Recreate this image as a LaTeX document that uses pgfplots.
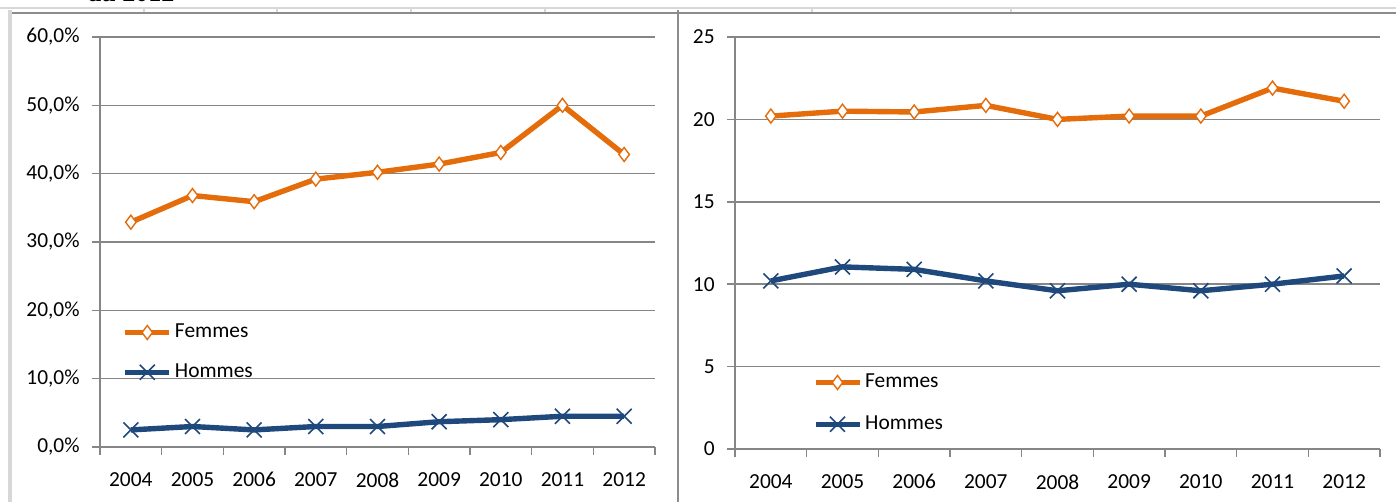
\documentclass[border=0pt]{standalone}
\usepackage{pgfplots}
\pgfplotsset{compat=1.18}
\usepackage{fontspec}
\setmainfont{Carlito}
\newfontfamily\titlefont{Liberation Serif}

\definecolor{femorange}{RGB}{228,108,10}
\definecolor{homblue}{RGB}{31,73,125}
\definecolor{gridgray}{RGB}{134,134,134}
\definecolor{framegray}{RGB}{140,140,140}
\definecolor{lightframe}{RGB}{215,215,215}

% Femmes / Hommes, 2004-2012 (x = 0 ... 8)
\pgfplotstableread{
x pctF pctH nbF nbH
0 32.9 2.5 20.2 10.2
1 36.8 3.0 20.5 11.05
2 35.9 2.5 20.45 10.9
3 39.2 3.0 20.85 10.2
4 40.2 3.0 20.0 9.6
5 41.4 3.7 20.2 10.0
6 43.1 4.0 20.2 9.6
7 50.0 4.5 21.9 10.0
8 42.8 4.5 21.1 10.5
}\evol

\pgfplotsset{
  evol/.style={
    scale only axis,
    clip=false,
    axis x line*=bottom, axis y line*=left,
    axis line style={gridgray, line width=0.9pt, -},
    xmin=-0.5, xmax=8.5,
    xtick={-0.5,0.5,...,8.5},
    xticklabels={},
    extra x ticks={0,1,2,3,4,5,6,7,8},
    extra x tick labels={2004,2005,2006,2007,2008,2009,2010,2011,2012},
    extra x tick style={major tick length=0pt},
    tick align=outside,
    major tick length=4pt,
    tick style={gridgray, line width=0.8pt},
    ymajorgrids,
    major grid style={gridgray, line width=0.8pt},
    ticklabel style={font=\fontsize{10.7}{12}\selectfont, text=black},
    xticklabel style={anchor=north, inner sep=0pt, yshift=-12.5pt},
    yticklabel style={anchor=east, inner sep=0pt, xshift=-6pt},
    legend cell align=left,
    legend style={draw=none, fill=none, inner sep=0pt,
      font=\fontsize{10.7}{12}\selectfont,
      nodes={inner sep=1.5pt}},
    legend image code/.code={%
      \draw[mark repeat=2, mark phase=2]
        plot coordinates {(0pt,0pt) (11pt,0pt) (22pt,0pt)};},
  },
  femmes/.style={femorange, line width=2.7pt, mark=diamond*, mark size=3.5pt,
    mark options={fill=white, draw=femorange, line width=0.7pt, solid}},
  hommes/.style={homblue, line width=2.7pt, mark=x, mark size=5.3pt,
    mark options={homblue, line width=0.8pt, solid}},
}

\begin{document}
\begin{tikzpicture}
\useasboundingbox (0,0) rectangle (698pt,251pt);
\clip (0,0) rectangle (698pt,251pt);

% page furniture around the two charts
\node[anchor=base west, inner sep=0pt, font=\titlefont\bfseries\fontsize{13}{15}\selectfont]
  at (44pt,250.2pt) {au 2012};
\draw[lightframe, line width=1.2pt] (0,247pt) -- (698pt,247pt);
\foreach \tx in {72,138.5,205.5,272.5,406,505.5}
  \draw[lightframe, line width=0.8pt] (\tx pt,244.5pt) -- (\tx pt,247pt);
\draw[framegray, line width=0.8pt] (5pt,244.5pt) -- (698pt,244.5pt);
\draw[lightframe, line width=1.6pt] (5pt,0) -- (5pt,246pt);
\draw[framegray, line width=0.9pt] (339pt,0) -- (339pt,246pt);

% left: share in percent
\begin{axis}[evol,
  at={(50pt,27.5pt)}, anchor=south west,
  width=277.5pt, height=205pt,
  ymin=0, ymax=60,
  ytick={0,10,20,30,40,50,60},
  yticklabels={{0,0\%},{10,0\%},{20,0\%},{30,0\%},{40,0\%},{50,0\%},{60,0\%}},
  legend style={at={(0.04,0.308)}, anchor=north west, row sep=8.5pt},
]
\addplot[femmes] table[x=x, y=pctF] {\evol};
\addlegendentry{Femmes}
\addplot[hommes] table[x=x, y=pctH] {\evol};
\addlegendentry{Hommes}
\end{axis}

% right: values
\begin{axis}[evol,
  at={(367.5pt,26.5pt)}, anchor=south west,
  width=322.5pt, height=206pt,
  ymin=0, ymax=25,
  ytick={0,5,10,15,20,25},
  yticklabels={0,5,10,15,20,25},
  legend style={at={(0.12,0.19)}, anchor=north west, row sep=9.5pt},
]
\addplot[femmes] table[x=x, y=nbF] {\evol};
\addlegendentry{Femmes}
\addplot[hommes] table[x=x, y=nbH] {\evol};
\addlegendentry{Hommes}
\end{axis}
\end{tikzpicture}
\end{document}
